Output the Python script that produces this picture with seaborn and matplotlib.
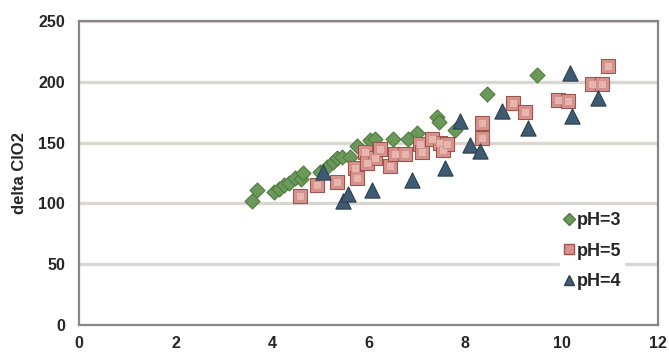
import numpy as np
import pandas as pd
import matplotlib
matplotlib.use("Agg")
import matplotlib.pyplot as plt
import seaborn as sns
from matplotlib.lines import Line2D

ph3_x = [3.59, 3.68, 4.04, 4.15, 4.25, 4.35, 4.48, 4.60, 4.64, 5.00, 5.15, 5.27, 5.35, 5.45,
         5.62, 5.76, 6.03, 6.13, 6.51, 6.82, 7.00, 7.43, 7.47, 7.79, 8.46, 9.49]
ph3_y = [102, 111, 109, 112, 115, 117, 121, 120, 125, 126, 130, 134, 137, 138,
         138, 147, 152, 153, 153, 153, 158, 171, 167, 160, 190, 206]

ph5_x = [4.58, 4.93, 5.35, 5.72, 5.76, 5.93, 5.97, 6.13, 6.24, 6.45, 6.55, 6.76, 7.07, 7.10,
         7.32, 7.48, 7.55, 7.63, 8.35, 8.35, 9.00, 9.24, 9.93, 10.13, 10.63, 10.84, 10.97]
ph5_y = [106, 115, 118, 129, 121, 142, 133, 137, 145, 131, 141, 141, 149, 142,
         153, 150, 144, 149, 166, 154, 183, 175, 185, 184, 198, 198, 213]

ph4_x = [5.06, 5.47, 5.58, 6.08, 6.90, 7.59, 7.90, 8.10, 8.31, 8.77, 9.31, 10.18, 10.21, 10.76]
ph4_y = [126, 102, 108, 111, 119, 129, 168, 148, 143, 176, 162, 207, 172, 187]

labels = ["pH=3", "pH=5", "pH=4"]
x_ticks = [0, 2, 4, 6, 8, 10, 12]
y_ticks = [0, 50, 100, 150, 200, 250]

df = pd.DataFrame({
    "x": ph3_x + ph5_x + ph4_x,
    "y": ph3_y + ph5_y + ph4_y,
    "series": [labels[0]] * len(ph3_x) + [labels[1]] * len(ph5_x) + [labels[2]] * len(ph4_x),
})

sns.set_style("white")
plt.rcParams['font.family'] = ['Liberation Sans', 'DejaVu Sans']

fig = plt.figure(figsize=(6.69, 3.57), dpi=100)
ax = fig.add_axes([0.118, 0.0896, 0.8656, 0.8514])

for yv in y_ticks[1:]:
    ax.axhline(yv, color="#dad6d2", lw=2.4, zorder=0)

palette = {"pH=3": "#6b9a58", "pH=5": "#d9928c", "pH=4": "#3e5b72"}
markers = {"pH=3": "D", "pH=5": "s", "pH=4": "^"}
edges = {"pH=3": "#4f7a42", "pH=5": "#9c5650", "pH=4": "#2c4052"}
sizes = {"pH=3": 58, "pH=5": 115, "pH=4": 120}

for lab in ["pH=3", "pH=5", "pH=4"]:
    sub = df[df["series"] == lab]
    sns.scatterplot(data=sub, x="x", y="y", marker=markers[lab], color=palette[lab],
                    edgecolor=edges[lab], linewidth=0.8, s=sizes[lab], ax=ax,
                    zorder=3, legend=False)
    if lab == "pH=5":
        sns.scatterplot(data=sub, x="x", y="y", marker="s", color="#e8b4ae",
                        edgecolor="#c98a84", linewidth=0.5, s=30, ax=ax, zorder=3,
                        legend=False)

ax.set_xlim(0, 12)
ax.set_ylim(0, 250)
ax.set_xticks(x_ticks)
ax.set_yticks(y_ticks)
ax.tick_params(direction="in", length=3, color="#888888", width=1,
               labelsize=11.5)
ax.tick_params(axis="x", pad=8)
ax.tick_params(axis="y", pad=10)
for t in ax.get_xticklabels() + ax.get_yticklabels():
    t.set_fontweight("bold")
for sp in ax.spines.values():
    sp.set_color("#8a8683")
    sp.set_linewidth(1.6)
ax.set_xlabel("")
ax.set_ylabel("delta ClO2", fontsize=12, fontweight="bold", labelpad=8)

handles = [Line2D([], [], ls="", marker=markers[l], markerfacecolor=palette[l],
                  markeredgecolor=edges[l], markersize=7 if l != "pH=3" else 6) for l in labels]
leg = ax.legend(handles, labels, loc="center", bbox_to_anchor=(0.886, 0.243),
                frameon=True, framealpha=1, edgecolor="white", fancybox=False,
                handletextpad=0.1, labelspacing=0.75, borderpad=0.15, handlelength=0.7,
                prop={"weight": "bold", "size": 13})

fig.savefig("out.png", dpi=100)
